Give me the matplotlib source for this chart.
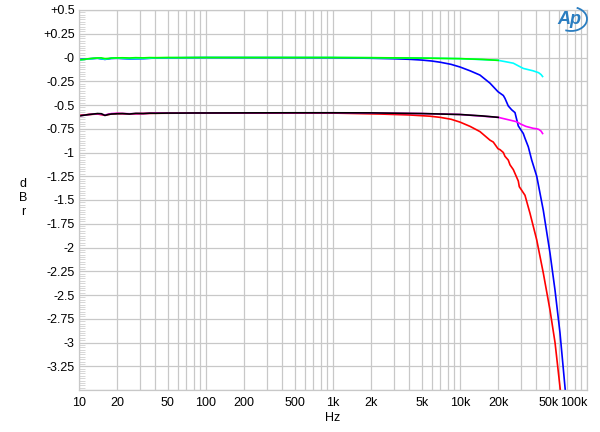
import matplotlib
matplotlib.use('Agg')
import matplotlib.pyplot as plt
from matplotlib.patches import Arc
from matplotlib.ticker import FixedLocator, FixedFormatter, MultipleLocator
import numpy as np

plt.rcParams['font.family'] = ['Liberation Sans', 'DejaVu Sans']

# ---- upper pair: green (to 20k), cyan (to ~45k), blue (rolls off) ----
f_green = [10, 11, 12, 13, 14, 15, 16, 17, 18, 20, 22, 25, 28, 32, 36, 40, 50, 63, 80, 100,
           200, 500, 1000, 2000, 5000, 10000, 15000, 20000]
db_green = [-0.025, -0.02, -0.012, -0.008, -0.005, -0.004, -0.012, -0.01, -0.006, -0.004, -0.003, -0.005,
            -0.002, -0.004, -0.001, -0.002, 0.0, -0.001, 0.0, 0.0,
            0.0, 0.0, 0.0, -0.002, -0.006, -0.012, -0.02, -0.03]

f_cyan = [10, 12, 14, 16, 18, 20, 25, 32, 40, 60, 100, 1000, 5000, 10000, 20000,
          23000, 26300, 29000, 31500, 35000, 37600, 41600, 43500, 44700]
db_cyan = [-0.025, -0.015, -0.006, -0.018, -0.008, -0.006, -0.012, -0.01, -0.004, -0.002, 0.0, 0.0, -0.006, -0.012, -0.03,
           -0.045, -0.06, -0.09, -0.115, -0.13, -0.14, -0.16, -0.18, -0.2]

f_blue = [10, 12, 14, 16, 18, 20, 25, 32, 40, 60, 100, 1000, 2000, 3000, 4000, 5000, 6000, 7000, 8500,
          10000, 12000, 14360, 17220, 19910, 21930, 22600, 23990, 25500, 27100, 28770, 31500, 32480,
          34500, 36700, 40190, 45300, 51150, 56000, 61300, 67100, 70000]
db_blue = [-0.02, -0.014, -0.008, -0.02, -0.01, -0.008, -0.015, -0.012, -0.005, -0.003, -0.001, -0.003, -0.008,
           -0.013, -0.019, -0.027, -0.037, -0.05, -0.072,
           -0.1, -0.14, -0.185, -0.27, -0.36, -0.40, -0.43, -0.51, -0.55, -0.58, -0.72, -0.80, -0.85,
           -0.94, -1.08, -1.25, -1.61, -2.06, -2.45, -2.90, -3.47, -3.75]

# ---- lower pair: black (to 20k), magenta (to ~45k), red (rolls off) ----
f_black = [10, 11, 12, 13, 14, 15, 16, 17, 18, 20, 22, 25, 28, 32, 36, 40, 50, 63, 80, 100,
           200, 500, 1000, 2000, 5000, 10000, 15000, 20000]
db_black = [-0.615, -0.607, -0.6, -0.595, -0.59, -0.592, -0.61, -0.6, -0.595, -0.592, -0.59, -0.595,
            -0.588, -0.59, -0.586, -0.587, -0.585, -0.585, -0.584, -0.584,
            -0.583, -0.582, -0.582, -0.583, -0.59, -0.6, -0.615, -0.63]

f_magenta = [10, 12, 14, 16, 18, 20, 25, 32, 40, 60, 100, 1000, 5000, 10000, 20000,
             24000, 27900, 30000, 33000, 37600, 40000, 41600, 43500, 44700]
db_magenta = [-0.615, -0.6, -0.592, -0.605, -0.59, -0.588, -0.592, -0.59, -0.585, -0.586, -0.584, -0.582, -0.59, -0.6, -0.63,
              -0.655, -0.676, -0.70, -0.725, -0.745, -0.75, -0.756, -0.775, -0.80]

f_red = [10, 12, 14, 16, 18, 20, 25, 32, 40, 60, 100, 1000, 2344, 4000, 5800, 6970, 8500, 10000, 12000,
         14360, 17220, 18280, 19910, 20650, 21930, 22600, 23990, 24760, 26290, 28770, 29300, 32480,
         35570, 40190, 45300, 51150, 56000, 61300, 64000]
db_red = [-0.61, -0.6, -0.595, -0.608, -0.594, -0.59, -0.594, -0.59, -0.587, -0.586, -0.585, -0.585, -0.595,
          -0.605, -0.618, -0.63, -0.65, -0.68, -0.725,
          -0.78, -0.87, -0.89, -0.96, -0.97, -1.0, -1.04, -1.08, -1.13, -1.18, -1.30, -1.36, -1.45,
          -1.64, -1.92, -2.27, -2.66, -3.0, -3.47, -3.7]

x_ticks = [10, 20, 50, 100, 200, 500, 1000, 2000, 5000, 10000, 20000, 50000, 100000]
x_labels = ['10', '20', '50', '100', '200', '500', '1k', '2k', '5k', '10k', '20k', '50k', '100k']
y_ticks = [0.5, 0.25, 0.0, -0.25, -0.5, -0.75, -1.0, -1.25, -1.5, -1.75, -2.0, -2.25, -2.5,
           -2.75, -3.0, -3.25, -3.5]
y_labels = ['+0.5', '+0.25', '-0', '-0.25', '-0.5', '-0.75', '-1', '-1.25', '-1.5', '-1.75', '-2',
            '-2.25', '-2.5', '-2.75', '-3', '-3.25', '']

GRID = '#c8c8c8'
FS = 9

fig = plt.figure(figsize=(6.0, 4.32), dpi=100)
ax = fig.add_axes([79 / 600, 1 - 390 / 432, 508 / 600, 380 / 432])
ax.set_xscale('log')
ax.set_xlim(10, 100000)
ax.set_ylim(-3.5, 0.5)

lw = 1.2
ax.plot(f_blue, db_blue, color='#0000ff', lw=lw)
ax.plot(f_cyan, db_cyan, color='#00ffff', lw=lw)
ax.plot(f_green, db_green, color='#00ff00', lw=lw)
ax.plot(f_red, db_red, color='#ff0000', lw=lw)
ax.plot(f_magenta, db_magenta, color='#ff00ff', lw=lw)
ax.plot(f_black, db_black, color='#000000', lw=lw)

# grid: every 1..9 per decade, every 0.25 dB
minor_x = [m * 10 ** d for d in range(1, 5) for m in range(1, 10)] + [100000]
ax.xaxis.set_major_locator(FixedLocator(x_ticks))
ax.xaxis.set_major_formatter(FixedFormatter(x_labels))
ax.xaxis.set_minor_locator(FixedLocator(minor_x))
ax.xaxis.set_minor_formatter(FixedFormatter([''] * len(minor_x)))
ax.yaxis.set_major_locator(FixedLocator(y_ticks))
ax.yaxis.set_major_formatter(FixedFormatter(y_labels))
ax.yaxis.set_minor_locator(MultipleLocator(0.025))
ax.grid(True, which='major', color=GRID, lw=0.9)
ax.grid(True, which='minor', axis='x', color=GRID, lw=0.9)
ax.set_axisbelow(True)

ax.tick_params(axis='both', which='major', length=0, labelsize=FS, colors='black')
ax.tick_params(axis='x', which='major', pad=5)
ax.tick_params(axis='y', which='major', pad=3)
ax.tick_params(axis='x', which='minor', length=0)
ax.tick_params(axis='y', which='minor', direction='in', length=4, width=0.6, color='#d0d0d0')
for sp in ax.spines.values():
    sp.set_color(GRID)
    sp.set_linewidth(0.9)

labs = ax.get_xticklabels()
labs[-1].set_ha('right')

fig.text(333 / 600, 1 - 418 / 432, 'Hz', ha='center', va='center', fontsize=FS)
fig.text(23 / 600, 1 - 198 / 432, 'd\nB\nr', ha='center', va='center', fontsize=FS, linespacing=1.25)

# Ap logo
fig.text(569 / 600, 1 - 19 / 432, 'Ap', ha='center', va='center', fontsize=13,
         fontstyle='italic', fontweight='bold', color='#2a7dc0')
fig.add_artist(Arc((571 / 600, 1 - 19 / 432), 32 / 600, 24 / 432, theta1=-110, theta2=70,
                   transform=fig.transFigure, color='#2a7dc0', lw=1.3))

plt.savefig('out.png', dpi=100)
